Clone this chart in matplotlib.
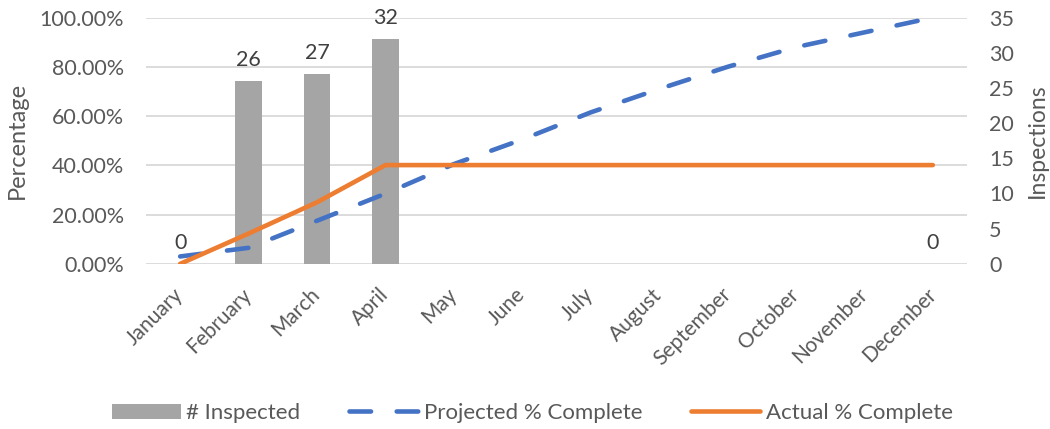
import matplotlib.pyplot as plt
import numpy as np

# values
months = ['January', 'February', 'March', 'April', 'May', 'June', 'July',
          'August', 'September', 'October', 'November', 'December']
inspected = [0, 26, 27, 32, None, None, None, None, None, None, None, 0]
projected_pct = [3.0, 6.5, 17.5, 28.5, 40.5, 50.5, 61.5, 71.0, 80.0, 88.0, 94.0, 100.0]
actual_pct = [0.0, 12.3, 25.0, 40.1, 40.1, 40.1, 40.1, 40.1, 40.1, 40.1, 40.1, 40.1]

pct_ticks = [0, 20, 40, 60, 80, 100]
count_ticks = [0, 5, 10, 15, 20, 25, 30, 35]

plt.rcParams['font.family'] = ['Lato', 'DejaVu Sans']
TEXT = '#595959'
GRID = '#D9D9D9'
BAR = '#A5A5A5'
BLUE = '#4472C4'
ORANGE = '#ED7D31'
FS = 15.5

fig = plt.figure(figsize=(10.5, 4.29), dpi=100)
ax = fig.add_axes([0.139, 0.385, 0.782, 0.574])
x = np.arange(len(months))

# percent axis: grid + left ticks
ax.set_ylim(0, 100)
ax.set_xlim(-0.5, len(months) - 0.5)
ax.set_yticks(pct_ticks)
ax.set_yticklabels(['%.2f%%' % v for v in pct_ticks])
ax.yaxis.grid(True, color=GRID, linewidth=1.3)
ax.set_axisbelow(True)
for s in ax.spines.values():
    s.set_visible(False)
ax.tick_params(axis='y', length=0, labelsize=FS, colors=TEXT, pad=16)
ax.tick_params(axis='x', length=0, labelsize=15, colors=TEXT, pad=20)
ax.set_xticks(x)
ax.set_xticklabels(months, rotation=45, ha='right', va='center',
                   rotation_mode='anchor')
ax.set_ylabel('Percentage', fontsize=17, color=TEXT, labelpad=8)

# inspections axis: bars
ax2 = ax.twinx()
bar_x = [i for i, v in enumerate(inspected) if v is not None]
bar_v = [v for v in inspected if v is not None]
bars = ax2.bar(bar_x, bar_v, width=0.39, color=BAR, label='# Inspected')
for bx, bv in zip(bar_x, bar_v):
    ax2.annotate(str(bv), (bx, bv), xytext=(0, 8), textcoords='offset points',
                 ha='center', va='bottom', fontsize=FS, color='#404040')
ax2.set_ylim(0, 35)
ax2.set_yticks(count_ticks)
ax2.tick_params(axis='y', length=0, labelsize=FS, colors=TEXT, pad=16)
for s in ax2.spines.values():
    s.set_visible(False)
ax2.set_ylabel('Inspections', fontsize=16.5, color=TEXT, rotation=90, labelpad=9)

# lines on top
ax3 = ax.twinx()
ax3.set_ylim(0, 100)
ax3.set_yticks([])
for s in ax3.spines.values():
    s.set_visible(False)
proj, = ax3.plot(x, projected_pct, color=BLUE, linewidth=3.3,
                 dashes=(4.7, 5.6), dash_capstyle='round',
                 label='Projected % Complete')
act, = ax3.plot(x, actual_pct, color=ORANGE, linewidth=3.3,
                solid_capstyle='round', label='Actual % Complete')

fig.legend([bars, proj, act], ['# Inspected', 'Projected % Complete', 'Actual % Complete'],
           loc='center', ncol=3, frameon=False, fontsize=16,
           labelcolor=TEXT, handlelength=3.1, columnspacing=2.2,
           handletextpad=0.25, bbox_to_anchor=(0.507, 0.037))

fig.savefig('out.png', dpi=100)
